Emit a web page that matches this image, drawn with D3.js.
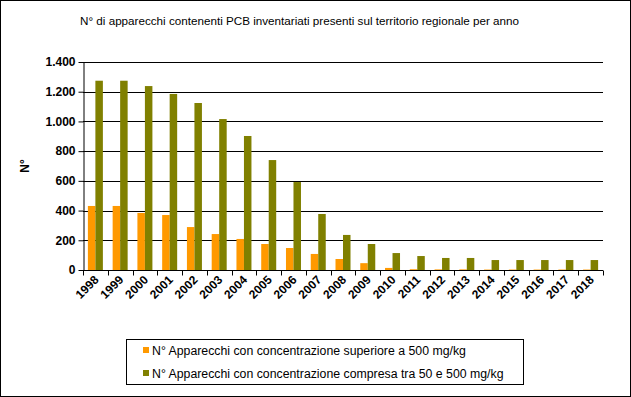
<!DOCTYPE html>
<html>
<head>
<meta charset="utf-8">
<script src="https://cdn.jsdelivr.net/npm/d3@7"></script>
<style>
  body { margin: 0; background: #fff; }
  svg text { font-family: "Liberation Sans", Arial, sans-serif; }
</style>
</head>
<body>
<div id="chart"></div>
<script>
// data
const years = ["1998","1999","2000","2001","2002","2003","2004","2005","2006","2007",
               "2008","2009","2010","2011","2012","2013","2014","2015","2016","2017","2018"];
const sopra500 = [431, 431, 384, 370, 289, 242, 209, 175, 148, 108, 74, 46, 14, 5, 4, 4, 3, 3, 3, 3, 3];
const tra50e500 = [1274, 1274, 1238, 1185, 1124, 1016, 902, 740, 592, 377, 236, 175, 114, 94, 81, 81, 67, 67, 67, 67, 67];
const seriesNames = [
  "N° Apparecchi con concentrazione superiore a 500 mg/kg",
  "N° Apparecchi con concentrazione compresa tra 50 e 500 mg/kg"
];
const seriesColors = ["#FF9900", "#808000"];
const yTicks = [0, 200, 400, 600, 800, 1000, 1200, 1400];

const W = 631, H = 397;
const plotL = 83, plotR = 603, plotT = 62, plotB = 270;

const svg = d3.select("#chart").append("svg")
    .attr("width", W).attr("height", H);

// outer frame
svg.append("rect")
    .attr("x", 0.5).attr("y", 0.5).attr("width", W - 1).attr("height", H - 1)
    .attr("fill", "#fff").attr("stroke", "#000");

// title
svg.append("text")
    .attr("x", 80).attr("y", 25)
    .attr("font-size", "11px")
    .attr("textLength", 439).attr("lengthAdjust", "spacingAndGlyphs")
    .text("N°  di apparecchi contenenti PCB inventariati presenti sul territorio regionale per anno");

const x = d3.scaleBand().domain(years).range([plotL, plotR]).paddingInner(0).paddingOuter(0);
const y = d3.scaleLinear().domain([0, 1400]).range([plotB, plotT]);
const barW = 7.5;

// gridlines
svg.append("g").selectAll("line").data(yTicks.filter(d => d > 0)).join("line")
    .attr("x1", plotL).attr("x2", plotR)
    .attr("y1", d => Math.round(y(d)) + 0.5).attr("y2", d => Math.round(y(d)) + 0.5)
    .attr("stroke", "#000").attr("stroke-width", 1);

// bars
[sopra500, tra50e500].forEach((vals, s) => {
  svg.append("g").selectAll("rect").data(vals).join("rect")
      .attr("x", (d, i) => x(years[i]) + x.bandwidth() / 2 - barW + s * barW)
      .attr("y", d => y(d))
      .attr("width", barW)
      .attr("height", d => y(0) - y(d))
      .attr("fill", seriesColors[s]);
});

// y axis
const yAxis = svg.append("g")
    .attr("transform", `translate(${plotL + 0.5},0)`)
    .call(d3.axisLeft(y).tickValues(yTicks).tickSize(5).tickSizeOuter(0)
      .tickFormat(d => d3.format(",")(d).replace(/,/g, ".")));
yAxis.select(".domain").attr("stroke", "#000");
yAxis.selectAll("line").attr("stroke", "#000");
yAxis.selectAll("text")
    .attr("font-size", "12px").attr("font-weight", "bold").attr("fill", "#000")
    .attr("font-family", "'Liberation Sans', Arial, sans-serif")
    .attr("x", -8);

// x axis
const xAxis = svg.append("g")
    .attr("transform", `translate(0,${plotB + 0.5})`);
xAxis.append("line")
    .attr("x1", plotL).attr("x2", plotR).attr("stroke", "#000");
xAxis.selectAll("line.tk").data(d3.range(years.length + 1)).join("line")
    .attr("class", "tk")
    .attr("x1", i => Math.round(plotL + i * x.step()) + 0.5)
    .attr("x2", i => Math.round(plotL + i * x.step()) + 0.5)
    .attr("y1", 0).attr("y2", 5).attr("stroke", "#000");
xAxis.selectAll("text").data(years).join("text")
    .attr("transform", d => `translate(${x(d) + x.bandwidth() / 2 + 4},${10}) rotate(-45)`)
    .attr("text-anchor", "end")
    .attr("font-size", "12px").attr("font-weight", "bold")
    .text(d => d);

// y title
svg.append("text")
    .attr("transform", "translate(29,166) rotate(-90)")
    .attr("text-anchor", "middle")
    .attr("font-size", "12px").attr("font-weight", "bold")
    .text("N°");

// legend
const lg = svg.append("g");
lg.append("rect")
    .attr("x", 126.5).attr("y", 339.5).attr("width", 397).attr("height", 45)
    .attr("fill", "#fff").attr("stroke", "#000");
seriesNames.forEach((n, i) => {
  const yy = 350 + i * 23;
  lg.append("rect").attr("x", 143).attr("y", yy - 3).attr("width", 6).attr("height", 6)
      .attr("fill", seriesColors[i]);
  lg.append("text").attr("x", 152).attr("y", yy + 4.5)
      .attr("font-size", "12.3px").text(n);
});
</script>
</body>
</html>
